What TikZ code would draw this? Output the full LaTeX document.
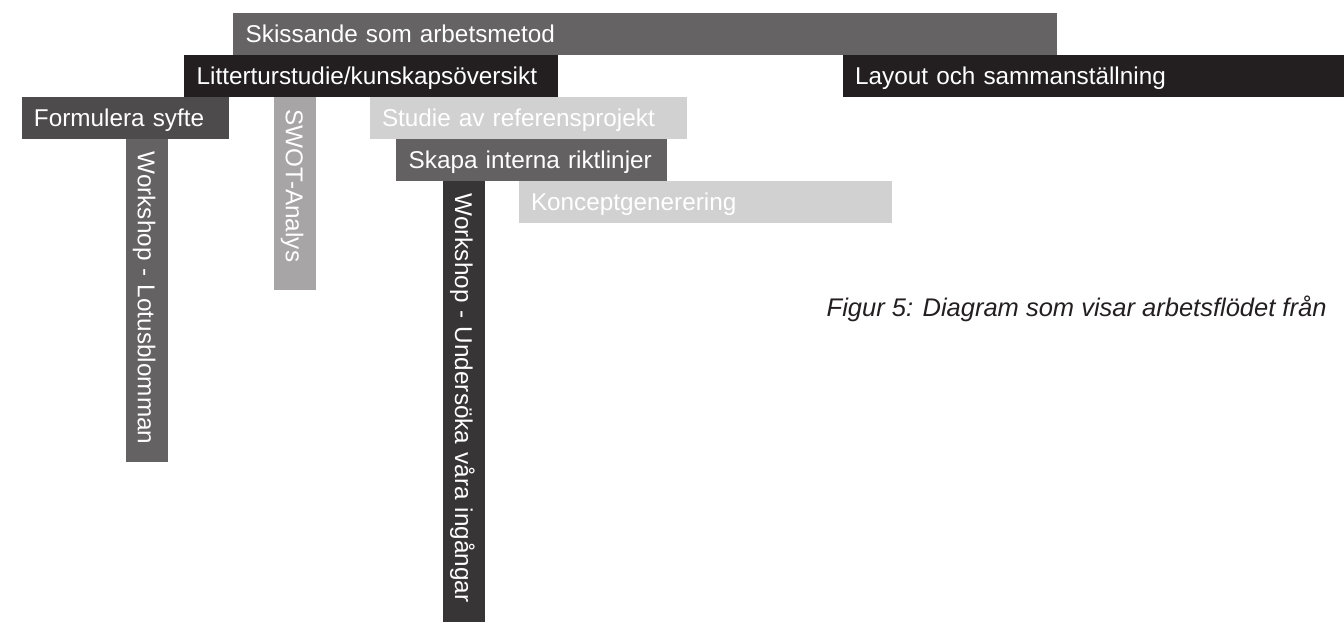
\documentclass[tikz,border=0pt]{standalone}
\usepackage{fontspec}
\setmainfont{Liberation Sans}
\definecolor{skissgrey}{HTML}{656364}
\definecolor{nearblack}{HTML}{231F20}
\definecolor{syftegrey}{HTML}{4E4B4C}
\definecolor{palegrey}{HTML}{D1D1D1}
\definecolor{swotgrey}{HTML}{A7A5A6}
\definecolor{skapagrey}{HTML}{636162}
\definecolor{lotusgrey}{HTML}{646263}
\definecolor{ingangrey}{HTML}{383536}
\begin{document}
\begin{tikzpicture}
        [x=1pt,y=-1pt,
         box/.style={inner xsep=12.5pt, inner ysep=0pt, minimum height=42pt, text height=17.4pt, text depth=0pt,
                     align=left, text=white, font=\fontsize{24.3}{29}\selectfont},
         bar/.style={box, anchor=north west},
         vbar/.style={box, anchor=south west, rotate=-90}]
      \useasboundingbox (0,0) rectangle (1344,622);
      \node[bar, fill=skissgrey, text width=798.5pt] (skiss) at (233,12.7) {Skissande som arbetsmetod};
      \node[bar, fill=nearblack, text width=348.5pt] (litt) at (184,54.8) {Litterturstudie/kunskapsöversikt};
      \node[bar, fill=nearblack, text width=476.5pt] (layout) at (842.5,54.8) {Layout och sammanställning};
      \node[bar, fill=syftegrey, text width=182.4pt] (syfte) at (21.3,96.9) {Formulera syfte};
      \node[bar, fill=palegrey, text width=292.4pt] (studie) at (369.3,96.9) {Studie av referensprojekt};
      \node[bar, fill=skapagrey, text width=245.7pt] (skapa) at (396,139) {Skapa interna riktlinjer};
      \node[bar, fill=palegrey, text width=348.4pt] (koncept) at (518.3,181) {Konceptgenerering};

      \node[vbar, fill=lotusgrey, text width=297.5pt] (lotus) at (125.3,139) {Workshop - Lotusblomman};
      \node[vbar, fill=swotgrey, text width=168pt] (swot) at (273.3,96.9) {SWOT-Analys};
      \node[vbar, fill=ingangrey, text width=416pt] (ingangar) at (442.7,181) {Workshop - Undersöka våra ingångar};

      \node[anchor=base west, inner sep=0pt, text=nearblack, font=\fontsize{25.5}{31}\selectfont\itshape] (caption) at (826.5,316)
        {Figur 5: Diagram som visar arbetsflödet från};
\end{tikzpicture}
\end{document}
